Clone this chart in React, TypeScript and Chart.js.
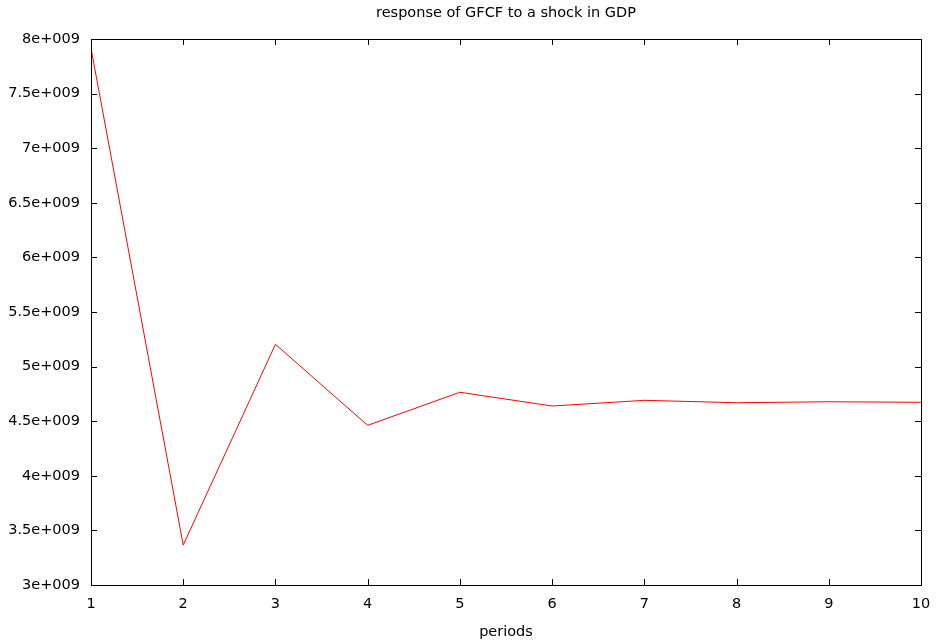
import React, { useEffect, useRef } from "react";
import { Chart, registerables } from "chart.js";

Chart.register(...registerables);

const periods = [1, 2, 3, 4, 5, 6, 7, 8, 9, 10];
const response = [7.915e9, 3.366e9, 5.204e9, 4.462e9, 4.765e9, 4.639e9, 4.691e9, 4.669e9, 4.678e9, 4.673e9];
const chartTitle = "response of GFCF to a shock in GDP";
const xTitle = "periods";
const FONT = "'DejaVu Sans', sans-serif";
const FS = 14.5;

function fmtSci(v: number): string {
  if (v === 0) return "0";
  const exp = Math.floor(Math.log10(Math.abs(v)) + 1e-9);
  const mant = v / Math.pow(10, exp);
  const m = Math.round(mant * 100) / 100;
  return `${m}e+${String(exp).padStart(3, "0")}`;
}

const framePlugin = {
  id: "frame",
  afterDraw(chart: any) {
    const { ctx, chartArea: a, scales } = chart;
    ctx.save();
    ctx.strokeStyle = "#000";
    ctx.lineWidth = 1;
    ctx.strokeRect(Math.round(a.left) + 0.5, Math.round(a.top) + 0.5, Math.round(a.right - a.left), Math.round(a.bottom - a.top));
    const tl = 6;
    ctx.beginPath();
    scales.x.ticks.forEach((t: any) => {
      const px = Math.round(scales.x.getPixelForValue(t.value)) + 0.5;
      ctx.moveTo(px, a.bottom);
      ctx.lineTo(px, a.bottom - tl);
      ctx.moveTo(px, a.top);
      ctx.lineTo(px, a.top + tl);
    });
    scales.y.ticks.forEach((t: any) => {
      const py = Math.round(scales.y.getPixelForValue(t.value)) + 0.5;
      ctx.moveTo(a.left, py);
      ctx.lineTo(a.left + tl, py);
      ctx.moveTo(a.right, py);
      ctx.lineTo(a.right - tl, py);
    });
    ctx.stroke();
    ctx.fillStyle = "#000";
    ctx.font = `${FS}px ${FONT}`;
    ctx.textAlign = "center";
    ctx.textBaseline = "middle";
    ctx.fillText(chartTitle, (a.left + a.right) / 2, 13);
    ctx.restore();
  },
};

export default function App() {
  const ref = useRef<HTMLCanvasElement>(null);
  useEffect(() => {
    const chart = new Chart(ref.current!, {
      type: "line",
      data: {
        datasets: [
          {
            data: periods.map((p, i) => ({ x: p, y: response[i] })),
            borderColor: "#ff0000",
            borderWidth: 1,
            pointRadius: 0,
            tension: 0,
          },
        ],
      },
      options: {
        animation: false,
        responsive: false,
        layout: { padding: { top: 39, right: 17, left: 0, bottom: 0 } },
        plugins: { legend: { display: false }, tooltip: { enabled: false }, title: { display: false } },
        scales: {
          x: {
            type: "linear",
            min: 1,
            max: 10,
            border: { display: false },
            grid: { display: false, drawTicks: false },
            ticks: { stepSize: 1, color: "#000", font: { family: FONT, size: FS }, padding: 11, maxRotation: 0 },
            title: { display: true, text: xTitle, color: "#000", font: { family: FONT, size: FS }, padding: { top: 8, bottom: 1 } },
            afterFit(s: any) {
              s.height = 57;
              s.paddingRight = 0;
              s.paddingLeft = 0;
            },
          },
          y: {
            type: "linear",
            min: 3e9,
            max: 8e9,
            border: { display: false },
            grid: { display: false, drawTicks: false },
            ticks: {
              stepSize: 5e8,
              color: "#000",
              font: { family: FONT, size: FS },
              padding: 11,
              callback: (v: any) => fmtSci(Number(v)),
            },
            afterFit(s: any) {
              s.width = 91;
              s.paddingTop = 0;
              s.paddingBottom = 0;
            },
          },
        },
      },
      plugins: [framePlugin],
    });
    return () => chart.destroy();
  }, []);
  return (
    <div style={{ position: "fixed", left: 0, top: 0, width: 938, height: 642, background: "#fff" }}>
      <canvas ref={ref} width={938} height={642} style={{ width: 938, height: 642 }} />
    </div>
  );
}
